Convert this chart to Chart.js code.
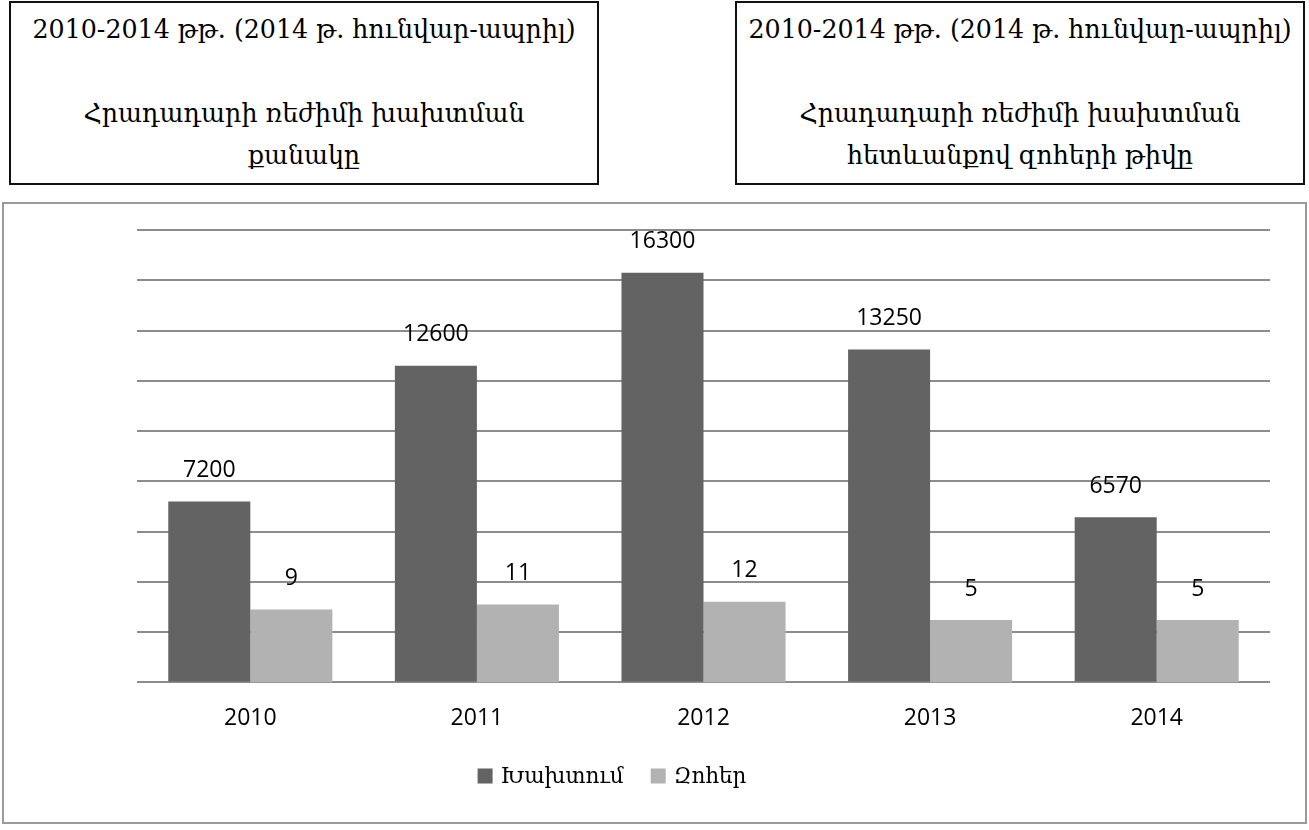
<!DOCTYPE html>
<html>
<head>
<meta charset="utf-8">
<script src="https://cdn.jsdelivr.net/npm/chart.js@4"></script>
<style>
  body { margin: 0; background: #fff; width: 1309px; height: 830px; position: relative; overflow: hidden; }
  .title-box {
    position: absolute; top: 1px; border: 2px solid #111;
    font-family: "DejaVu Serif", serif; font-size: 25.3px; line-height: 42px; white-space: nowrap;
    text-align: center; color: #000; box-sizing: content-box; padding-top: 6px;
  }
  #chartBox {
    position: absolute; left: 2px; top: 202px; width: 1301px; height: 618px;
    border: 2px solid #9a9a9a;
  }
</style>
</head>
<body>
<div class="title-box" style="left:9px; width:586px; height:174px;">
  2010-2014 թթ. (2014 թ. հունվար-ապրիլ)<br><br>Հրադադարի ռեժիմի խախտման<br>քանակը
</div>
<div class="title-box" style="left:735px; width:566px; height:174px;">
  2010-2014 թթ. (2014 թ. հունվար-ապրիլ)<br><br>Հրադադարի ռեժիմի խախտման<br>հետևանքով զոհերի թիվը
</div>
<div id="chartBox"><canvas id="chart" width="1301" height="618"></canvas></div>
<script>
const years = ["2010", "2011", "2012", "2013", "2014"];
const violations = [7200, 12600, 16300, 13250, 6570];
const deaths = [9, 11, 12, 5, 5];
const seriesNames = ["Խախտում", "Զոհեր"];
const seriesColors = ["#636363", "#b2b2b2"];

const labelFont = '23px "Open Sans", sans-serif';
const legendFont = '21.5px "DejaVu Serif", serif';

// value labels above every bar
const valueLabels = {
  id: "valueLabels",
  afterDatasetsDraw(chart) {
    const ctx = chart.ctx;
    ctx.save();
    ctx.font = labelFont;
    ctx.fillStyle = "#000";
    ctx.textAlign = "center";
    ctx.textBaseline = "middle";
    chart.data.datasets.forEach((ds, i) => {
      chart.getDatasetMeta(i).data.forEach((bar, j) => {
        ctx.fillText(ds.data[j], bar.x, bar.y - 31);
      });
    });
    ctx.restore();
  },
};

// legend under the axis, slightly left of centre like the original
const bottomLegend = {
  id: "bottomLegend",
  afterDraw(chart) {
    const ctx = chart.ctx;
    const box = 15, gap = 8, between = 27, cy = 572;
    ctx.save();
    ctx.font = legendFont;
    ctx.textBaseline = "middle";
    const items = chart.data.datasets.map((ds) => ({
      text: ds.label, color: ds.backgroundColor, w: ctx.measureText(ds.label).width,
    }));
    const total = items.reduce((s, it) => s + box + gap + it.w, 0) + between * (items.length - 1);
    let x = 608 - total / 2;
    items.forEach((it) => {
      ctx.fillStyle = it.color;
      ctx.fillRect(x, cy - box / 2, box, box);
      ctx.fillStyle = "#000";
      ctx.fillText(it.text, x + box + gap, cy + 1);
      x += box + gap + it.w + between;
    });
    ctx.restore();
  },
};

new Chart(document.getElementById("chart"), {
  type: "bar",
  data: {
    labels: years,
    datasets: [
      {
        label: seriesNames[0],
        data: violations,
        backgroundColor: seriesColors[0],
        yAxisID: "y",
      },
      {
        label: seriesNames[1],
        data: deaths,
        backgroundColor: seriesColors[1],
        yAxisID: "y2",
        base: -19,
      },
    ],
  },
  options: {
    responsive: false,
    animation: false,
    categoryPercentage: 0.724,
    barPercentage: 1,
    layout: { padding: { left: 133, right: 35, top: 26, bottom: 76 } },
    scales: {
      x: {
        grid: { display: false },
        border: { display: false },
        ticks: { font: { family: "Open Sans", size: 23 }, color: "#000", padding: 14 },
      },
      y: {
        min: 0,
        max: 18000,
        ticks: { display: false, stepSize: 2000 },
        border: { display: false },
        grid: { color: "#8c8c8c", lineWidth: 2, drawTicks: false },
      },
      y2: {
        display: false,
        min: -19,
        max: 155,
      },
    },
    plugins: {
      legend: { display: false },
      tooltip: { enabled: false },
    },
  },
  plugins: [valueLabels, bottomLegend],
});
</script>
</body>
</html>
